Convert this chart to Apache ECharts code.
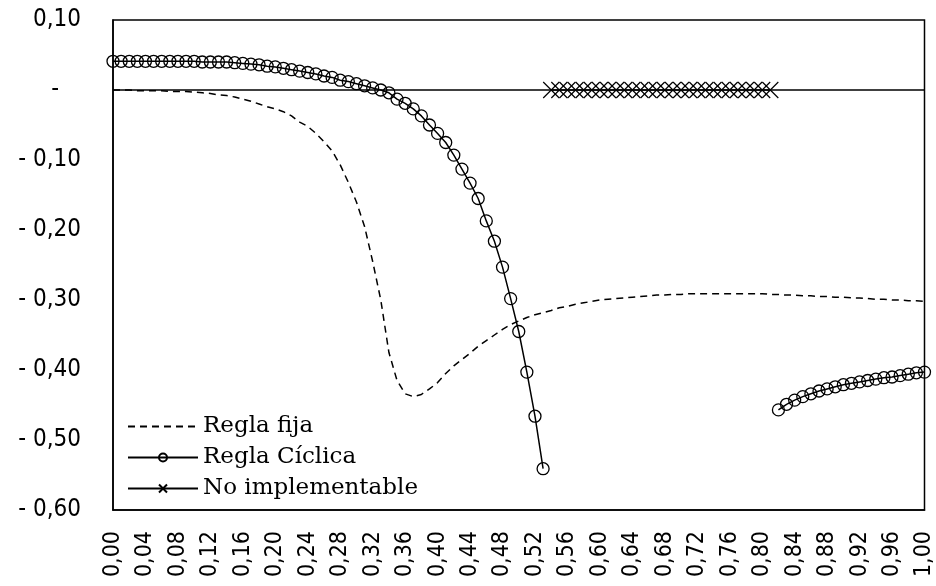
<!DOCTYPE html>
<html>
<head>
<meta charset="utf-8">
<script src="https://cdn.jsdelivr.net/npm/echarts@6/dist/echarts.min.js"></script>
<style>
  html, body { margin: 0; padding: 0; background: #fff; }
  #chart { width: 936px; height: 586px; }
</style>
</head>
<body>
<div id="chart"></div>
<script>
const categories = [
  '0,00','0,01','0,02','0,03','0,04','0,05','0,06','0,07','0,08','0,09',
  '0,10','0,11','0,12','0,13','0,14','0,15','0,16','0,17','0,18','0,19',
  '0,20','0,21','0,22','0,23','0,24','0,25','0,26','0,27','0,28','0,29',
  '0,30','0,31','0,32','0,33','0,34','0,35','0,36','0,37','0,38','0,39',
  '0,40','0,41','0,42','0,43','0,44','0,45','0,46','0,47','0,48','0,49',
  '0,50','0,51','0,52','0,53','0,54','0,55','0,56','0,57','0,58','0,59',
  '0,60','0,61','0,62','0,63','0,64','0,65','0,66','0,67','0,68','0,69',
  '0,70','0,71','0,72','0,73','0,74','0,75','0,76','0,77','0,78','0,79',
  '0,80','0,81','0,82','0,83','0,84','0,85','0,86','0,87','0,88','0,89',
  '0,90','0,91','0,92','0,93','0,94','0,95','0,96','0,97','0,98','0,99',
  '1,00'
]

const yTicks = [0.1, 0, -0.1, -0.2, -0.3, -0.4, -0.5, -0.6]
const yTickLabels = ['0,10', '-', '- 0,10', '- 0,20', '- 0,30', '- 0,40', '- 0,50', '- 0,60']

const reglaFija = [
  0.000, 0.000, 0.000, -0.001, -0.001, -0.001, -0.001, -0.002, -0.002, -0.002,
  -0.003, -0.004, -0.005, -0.007, -0.008, -0.010, -0.013, -0.016, -0.020, -0.024,
  -0.027, -0.031, -0.037, -0.046, -0.052, -0.062, -0.074, -0.087, -0.107, -0.132,
  -0.160, -0.195, -0.245, -0.300, -0.375, -0.415, -0.434, -0.438, -0.435, -0.427,
  -0.418, -0.405, -0.394, -0.385, -0.376, -0.366, -0.358, -0.350, -0.342, -0.335,
  -0.330, -0.325, -0.321, -0.318, -0.315, -0.311, -0.309, -0.306, -0.304, -0.302,
  -0.300, -0.299, -0.298, -0.297, -0.296, -0.295, -0.294, -0.293, -0.293, -0.292,
  -0.292, -0.291, -0.291, -0.291, -0.291, -0.291, -0.291, -0.291, -0.291, -0.291,
  -0.291, -0.292, -0.292, -0.293, -0.293, -0.294, -0.294, -0.295, -0.295, -0.296,
  -0.296, -0.297, -0.297, -0.298, -0.299, -0.299, -0.300, -0.300, -0.301, -0.301,
  -0.302
]

const reglaCiclica = [
  0.041, 0.041, 0.041, 0.041, 0.041, 0.041, 0.041, 0.041, 0.041, 0.041,
  0.041, 0.040, 0.040, 0.040, 0.040, 0.039, 0.038, 0.037, 0.036, 0.034,
  0.033, 0.031, 0.029, 0.027, 0.025, 0.023, 0.020, 0.018, 0.014, 0.012,
  0.009, 0.006, 0.003, 0.000, -0.004, -0.013, -0.019, -0.027, -0.037, -0.050,
  -0.062, -0.075, -0.093, -0.113, -0.133, -0.155, -0.187, -0.216, -0.253, -0.298,
  -0.345, -0.403, -0.466, -0.541, null, null, null, null, null, null,
  null, null, null, null, null, null, null, null, null, null,
  null, null, null, null, null, null, null, null, null, null,
  null, null, -0.457, -0.449, -0.443, -0.438, -0.434, -0.430, -0.427, -0.424,
  -0.421, -0.419, -0.417, -0.415, -0.413, -0.411, -0.410, -0.408, -0.406, -0.404,
  -0.403
]

const noImplementable = [
  null, null, null, null, null, null, null, null, null, null,
  null, null, null, null, null, null, null, null, null, null,
  null, null, null, null, null, null, null, null, null, null,
  null, null, null, null, null, null, null, null, null, null,
  null, null, null, null, null, null, null, null, null, null,
  null, null, null, null, 0, 0, 0, 0, 0, 0,
  0, 0, 0, 0, 0, 0, 0, 0, 0, 0,
  0, 0, 0, 0, 0, 0, 0, 0, 0, 0,
  0, 0, null, null, null, null, null, null, null, null,
  null, null, null, null, null, null, null, null, null, null,
  null
]

const tickFont = '"DejaVu Sans Condensed", "Liberation Sans Narrow", "DejaVu Sans", sans-serif'
const legendFont = '"DejaVu Serif", "Liberation Serif", serif'

const formatY = (value) => {
  const idx = yTicks.findIndex((t) => Math.abs(t - value) < 1e-9)
  if (idx < 0) return ''
  return idx === 1 ? '{z|' + yTickLabels[idx] + '}' : yTickLabels[idx]
}

const chart = echarts.init(document.getElementById('chart'), null, { renderer: 'canvas' })

chart.setOption({
  animation: false,
  backgroundColor: '#fff',
  grid: {
    left: 113,
    right: 9,
    top: 20,
    bottom: 76,
    show: true,
    borderColor: '#000',
    borderWidth: 1.5,
    backgroundColor: 'transparent'
  },
  legend: {
    orient: 'vertical',
    left: 122,
    top: 410,
    itemWidth: 70,
    itemHeight: 10,
    itemGap: 8,
    data: [
      { name: 'Regla fija', itemStyle: { color: 'rgba(0,0,0,0)', borderWidth: 0, opacity: 0 } },
      'Regla Cíclica',
      'No implementable'
    ],
    textStyle: {
      fontFamily: legendFont,
      fontSize: 23,
      color: '#000'
    }
  },
  xAxis: {
    type: 'category',
    boundaryGap: false,
    data: categories,
    axisLine: { onZero: false, lineStyle: { color: '#000', width: 1.5 } },
    axisTick: { show: false },
    splitLine: { show: false },
    axisLabel: {
      interval: 3,
      rotate: 90,
      margin: 21,
      color: '#000',
      fontFamily: tickFont,
      fontSize: 23
    }
  },
  yAxis: {
    type: 'value',
    min: -0.6,
    max: 0.1,
    interval: 0.1,
    axisLine: { show: true, lineStyle: { color: '#000', width: 1.5 } },
    axisTick: { show: false },
    splitLine: { show: false },
    axisLabel: {
      margin: 32,
      color: '#000',
      fontFamily: tickFont,
      fontSize: 24,
      formatter: formatY,
      rich: {
        z: {
          fontFamily: tickFont,
          fontSize: 24,
          color: '#000',
          padding: [0, 22, 0, 0]
        }
      }
    }
  },
  series: [
    {
      name: 'Regla fija',
      type: 'line',
      data: reglaFija,
      showSymbol: false,
      symbol: 'none',
      itemStyle: { color: '#000' },
      lineStyle: { color: '#000', width: 1.5, type: [7, 5] },
      markLine: {
        silent: true,
        symbol: 'none',
        label: { show: false },
        lineStyle: { color: '#000', type: 'solid', width: 1.5 },
        data: [{ yAxis: 0 }]
      },
      z: 2
    },
    {
      name: 'Regla Cíclica',
      type: 'line',
      data: reglaCiclica,
      symbol: 'circle',
      symbolSize: 12,
      showAllSymbol: true,
      itemStyle: { color: 'rgba(0,0,0,0)', borderColor: '#000', borderWidth: 1.3 },
      lineStyle: { color: '#000', width: 1.5 },
      z: 3
    },
    {
      name: 'No implementable',
      type: 'line',
      data: noImplementable,
      symbol: 'path://M0,0L10,10M10,0L0,10',
      symbolSize: 16,
      showAllSymbol: true,
      itemStyle: { color: 'rgba(0,0,0,0)', borderColor: '#000', borderWidth: 1.2 },
      lineStyle: { color: '#000', width: 1.5 },
      z: 3
    }
  ]
})
</script>
</body>
</html>
